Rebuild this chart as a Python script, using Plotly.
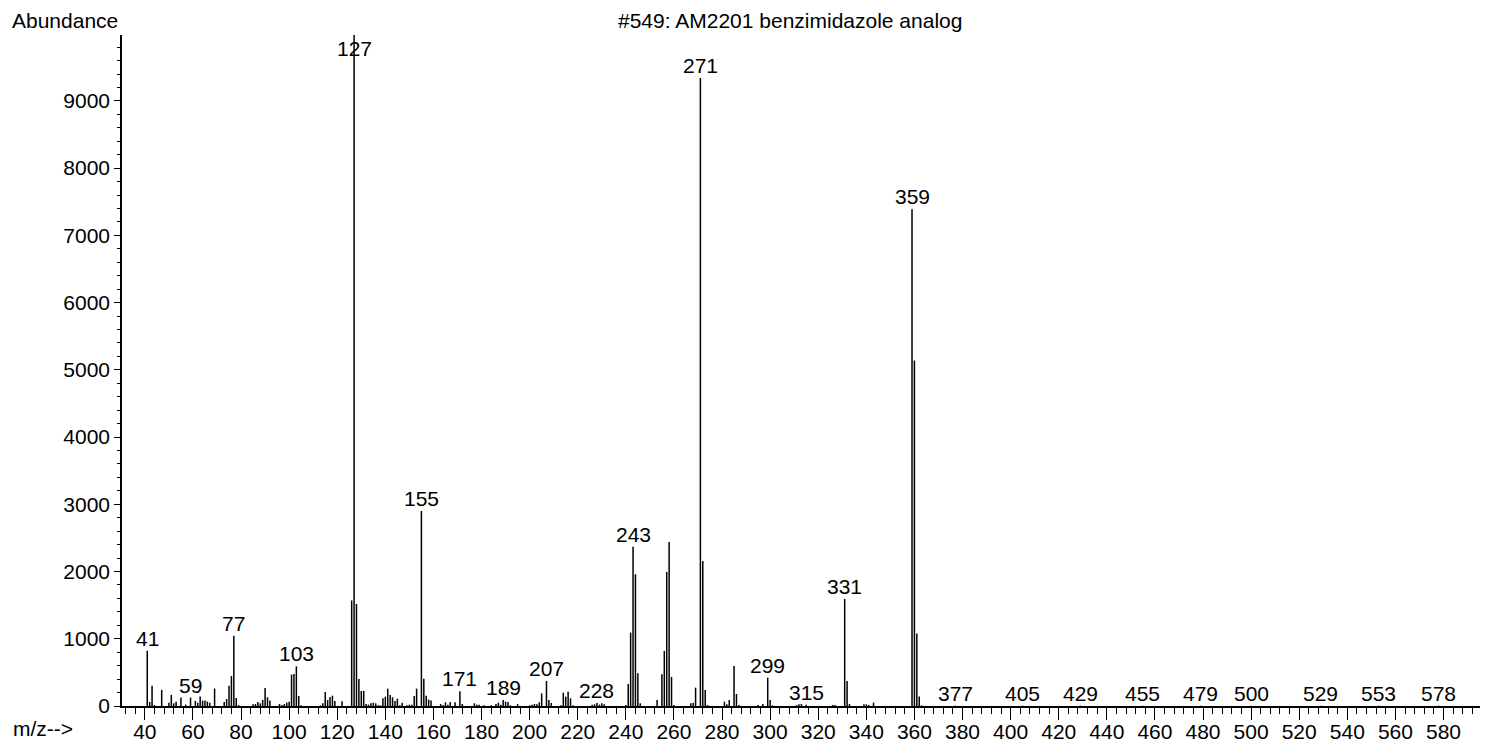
import plotly.graph_objects as go

# ---- data ----
mz = [41, 42, 43, 44, 47, 50, 51, 52, 53, 55, 57, 59, 61, 62, 63, 64, 65, 66, 67, 69,
      73, 74, 75, 76, 77, 78, 79, 85, 86, 87, 88, 89, 90, 91, 92, 96, 97, 98, 99, 100,
      101, 102, 103, 104, 105, 113, 114, 115, 116, 117, 118, 119, 122, 126, 127, 128, 129,
      130, 131, 132, 133, 134, 135, 136, 137, 138, 139, 140, 141, 142, 143, 144, 145, 146,
      147, 149, 150, 151, 152, 153, 155, 156, 157, 158, 159, 163, 164, 165, 166, 167, 169,
      171, 172, 177, 178, 179, 181, 184, 186, 187, 188, 189, 190, 191, 192, 195, 200, 201,
      202, 203, 204, 205, 207, 208, 209, 213, 214, 215, 216, 217, 218, 226, 227, 228, 229,
      230, 231, 240, 241, 242, 243, 244, 245, 246, 253, 255, 256, 257, 258, 259, 260, 267,
      268, 269, 271, 272, 273, 274, 281, 282, 283, 285, 286, 287, 295, 297, 299, 300, 301,
      311, 312, 313, 315, 326, 327, 331, 332, 333, 339, 340, 341, 343, 359, 360, 361, 362,
      363, 377, 405, 429, 455, 479, 500, 529, 553, 578]
abundance = [820, 60, 300, 15, 240, 50, 165, 40, 65, 125, 20, 125, 75, 50, 140, 80, 80, 65, 50, 260,
             60, 104, 300, 446, 1045, 119, 15, 25, 30, 60, 40, 90, 268, 129, 80, 30, 15, 30, 50, 65,
             466, 476, 590, 149, 10, 10, 40, 208, 90, 129, 154, 75, 70, 1570, 9980, 1518, 402,
             223, 223, 30, 20, 40, 50, 40, 10, 10, 114, 139, 258, 164, 129, 75, 109, 10,
             50, 10, 20, 20, 149, 258, 2900, 407, 154, 95, 80, 30, 15, 55, 20, 60, 55,
             218, 30, 40, 20, 20, 10, 10, 30, 50, 20, 90, 65, 60, 10, 30, 10, 20,
             30, 25, 55, 188, 372, 89, 45, 10, 198, 139, 213, 114, 10, 20, 25, 45, 20,
             40, 25, 15, 327, 1091, 2370, 1960, 486, 40, 89, 471, 820, 1994, 2440, 432, 15, 40,
             50, 273, 9340, 2158, 238, 15, 64, 25, 89, 595, 179, 15, 15, 30, 422, 89, 10,
             15, 25, 30, 20, 15, 15, 1592, 372, 30, 25, 25, 15, 50, 7390, 5140, 1080, 140,
             10, 5, 5, 5, 5, 5, 5, 5, 5, 5]
label_mz = [41, 59, 77, 103, 127, 155, 171, 189, 207, 228, 243, 271, 299, 315, 331, 359,
            377, 405, 429, 455, 479, 500, 529, 553, 578]
title_text = "#549: AM2201 benzimidazole analog"
y_title = "Abundance"
x_title = "m/z-->"

X_RANGE = [30.5, 598.5]
Y_MAX = 9980
FONT = dict(family="Liberation Sans, Arial, sans-serif", size=21, color="black")

# stick spectrum: one vertical segment per m/z value
xs, ys = [], []
for m, a in zip(mz, abundance):
    xs += [m, m, None]
    ys += [0, a, None]

fig = go.Figure(go.Scatter(x=xs, y=ys, mode="lines",
                           line=dict(color="black", width=1.5),
                           hoverinfo="skip", showlegend=False))

lookup = dict(zip(mz, abundance))
for m in label_mz:
    v = lookup[m]
    if v > 0.97 * Y_MAX:
        fig.add_annotation(x=m, y=1, yref="paper", text=str(m), showarrow=False,
                           yanchor="top", font=FONT)
    else:
        fig.add_annotation(x=m, y=v, text=str(m), showarrow=False,
                           yanchor="bottom", yshift=-1, font=FONT)

fig.add_annotation(x=-0.0015, y=1.022, xref="paper", yref="paper", text=y_title,
                   showarrow=False, xanchor="right", yanchor="middle", font=FONT)
fig.add_annotation(x=0.489, y=1.022, xref="paper", yref="paper", text=title_text,
                   showarrow=False, xanchor="center", yanchor="middle", font=FONT)
fig.add_annotation(x=-0.081, y=-0.033, xref="paper", yref="paper", text=x_title,
                   showarrow=False, xanchor="left", yanchor="middle", font=FONT)

# the page body adds an 8px offset, so the figure is drawn 8px smaller / shifted
fig.update_layout(
    width=1480, height=735,
    margin=dict(l=114, r=0, t=27, b=37, autoexpand=False),
    paper_bgcolor="white", plot_bgcolor="white",
    font=FONT,
    xaxis=dict(range=X_RANGE, tickmode="linear", tick0=0, dtick=20, tickformat="d",
               ticks="outside", ticklen=12, tickwidth=1.2, tickcolor="black",
               ticklabelstandoff=-6, automargin=False,
               showline=True, linecolor="black", linewidth=1.5,
               showgrid=False, zeroline=False, tickfont=FONT,
               minor=dict(tick0=0, dtick=4, ticks="outside", ticklen=6,
                          tickwidth=1, tickcolor="black", showgrid=False)),
    yaxis=dict(range=[0, Y_MAX], tickmode="linear", tick0=0, dtick=1000, tickformat="d",
               ticks="outside", ticklen=6, tickwidth=1.2, tickcolor="black",
               automargin=False,
               showline=True, linecolor="black", linewidth=1.5,
               showgrid=False, zeroline=False, tickfont=FONT,
               minor=dict(tick0=0, dtick=200, ticks="outside", ticklen=3,
                          tickwidth=1, tickcolor="black", showgrid=False)),
)

fig.write_html("out.html")
